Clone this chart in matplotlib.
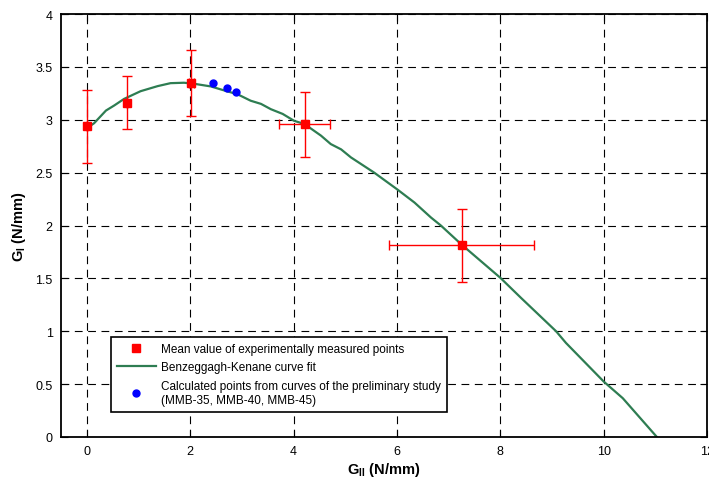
import matplotlib
matplotlib.use('Agg')
from matplotlib import pyplot as plt

plt.rcParams['font.family'] = ['Liberation Sans', 'DejaVu Sans']
plt.rcParams['mathtext.fontset'] = 'custom'
plt.rcParams['mathtext.rm'] = 'Liberation Sans'
plt.rcParams['mathtext.bf'] = 'Liberation Sans:bold'

# mean values of the experimental points with scatter
gii_mean = [0.0, 0.77, 2.02, 4.22, 7.25]
gi_mean = [2.94, 3.157, 3.343, 2.96, 1.816]
gi_err_lo = [0.346, 0.244, 0.31, 0.31, 0.348]
gi_err_hi = [0.337, 0.256, 0.317, 0.304, 0.344]
gii_err_lo = [0.0, 0.0, 0.05, 0.50, 1.40]
gii_err_hi = [0.0, 0.0, 0.05, 0.48, 1.40]

# points from the preliminary study (MMB-35, MMB-40, MMB-45)
gii_calc = [2.44, 2.71, 2.89]
gi_calc = [3.346, 3.30, 3.258]

# Benzeggagh-Kenane fit
gii_fit = [0.0, 0.14, 0.37, 0.53, 0.72, 1.04, 1.37, 1.62, 1.88, 2.08, 2.40, 2.66,
           2.92, 3.17, 3.37, 3.56, 3.79, 4.01, 4.21, 4.53, 4.72, 4.92, 5.11, 5.56,
           6.01, 6.34, 6.66, 6.85, 7.25, 8.0, 8.40, 9.08, 9.27, 10.0, 10.37, 11.03]
gi_fit = [2.92, 2.967, 3.087, 3.135, 3.197, 3.27, 3.318, 3.346, 3.35, 3.34, 3.315, 3.277,
          3.24, 3.18, 3.15, 3.10, 3.055, 2.99, 2.96, 2.85, 2.77, 2.72, 2.644, 2.50,
          2.34, 2.217, 2.075, 2.0, 1.82, 1.506, 1.316, 1.0, 0.89, 0.525, 0.367, 0.0]

fig = plt.figure(figsize=(7.09, 4.81), dpi=100)
ax = fig.add_axes([61 / 709, 43 / 481, 646 / 709, 423 / 481])

ax.errorbar(gii_mean, gi_mean, yerr=[gi_err_lo, gi_err_hi], xerr=[gii_err_lo, gii_err_hi],
            fmt='none', ecolor='red', elinewidth=1.0, capsize=3.5, capthick=1.0, zorder=3)
ax.plot(gii_mean, gi_mean, 's', color='red', markersize=6, zorder=4,
        label='Mean value of experimentally measured points')
ax.plot(gii_fit, gi_fit, '-', color='#2E7D52', lw=1.6, zorder=2,
        label='Benzeggagh-Kenane curve fit')
ax.plot(gii_calc, gi_calc, 'o', color='blue', markersize=5, zorder=4,
        label='Calculated points from curves of the preliminary study\n(MMB-35, MMB-40, MMB-45)')

ax.set_xlim(-0.5, 12)
ax.set_ylim(0, 4)
ax.set_xticks(range(0, 13, 2))
ax.set_yticks([0, 0.5, 1, 1.5, 2, 2.5, 3, 3.5, 4])
ax.set_yticklabels(['0', '0.5', '1', '1.5', '2', '2.5', '3', '3.5', '4'])
ax.grid(True, color='black', linestyle=(0, (7, 5)), lw=0.8)
ax.set_axisbelow(True)
ax.tick_params(direction='in', top=True, right=True, length=5, labelsize=9, pad=6)
for s in ax.spines.values():
    s.set_linewidth(1.3)

ax.set_xlabel(r'$\mathbf{G}_{\mathbf{II}}$ (N/mm)', fontsize=10.5, fontweight='bold', labelpad=2)
ax.set_ylabel(r'$\mathbf{G}_{\mathbf{I}}$ (N/mm)', fontsize=10.5, fontweight='bold', labelpad=5)

leg = ax.legend(loc='upper left', bbox_to_anchor=(111 / 709, 1 - 338 / 481),
                bbox_transform=fig.transFigure, fontsize=8.5, frameon=True, fancybox=False,
                edgecolor='black', framealpha=1, borderpad=0.5, labelspacing=0.55,
                handlelength=3.3, handletextpad=0.45, borderaxespad=0)
leg.get_frame().set_linewidth(1.2)

fig.savefig('out.png', dpi=100)
plt.close(fig)
